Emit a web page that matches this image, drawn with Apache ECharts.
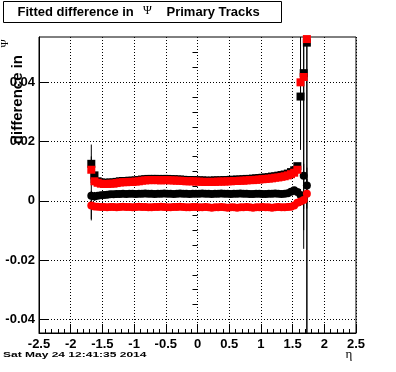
<!DOCTYPE html>
<html><head><meta charset="utf-8">
<script src="https://cdn.jsdelivr.net/npm/echarts@6/dist/echarts.min.js"></script>
<style>html,body{margin:0;padding:0;background:#fff}#c{width:396px;height:372px}</style>
</head><body><div id="c"></div>
<script>
// eta bin centres
const eta = [-1.675,-1.625,-1.575,-1.525,-1.475,-1.425,-1.375,-1.325,-1.275,-1.225,
  -1.175,-1.125,-1.075,-1.025,-0.975,-0.925,-0.875,-0.825,-0.775,-0.725,
  -0.675,-0.625,-0.575,-0.525,-0.475,-0.425,-0.375,-0.325,-0.275,-0.225,
  -0.175,-0.125,-0.075,-0.025,0.025,0.075,0.125,0.175,0.225,0.275,
  0.325,0.375,0.425,0.475,0.525,0.575,0.625,0.675,0.725,0.775,
  0.825,0.875,0.925,0.975,1.025,1.075,1.125,1.175,1.225,1.275,
  1.325,1.375,1.425,1.475,1.525,1.575,1.625,1.675,1.725];
// black squares
const blackSq = [0.0125,0.0086,0.0066,0.0062,0.0061,0.0061,0.0062,0.0062,0.0064,0.0066,
  0.0067,0.0067,0.0068,0.0068,0.0069,0.0070,0.0072,0.0073,0.0074,0.0074,
  0.0074,0.0074,0.0073,0.0074,0.0074,0.0073,0.0073,0.0072,0.0072,0.0071,
  0.0070,0.0070,0.0070,0.0069,0.0069,0.0069,0.0068,0.0068,0.0068,0.0069,
  0.0069,0.0069,0.0070,0.0070,0.0071,0.0071,0.0072,0.0072,0.0073,0.0074,
  0.0074,0.0075,0.0076,0.0077,0.0078,0.0079,0.0080,0.0082,0.0083,0.0085,
  0.0087,0.0089,0.0092,0.0097,0.0103,0.0117,0.0352,0.0431,0.0534];
const blackSqErr = [0.0065,0.002,0.0004,0.0004,0.0004,0.0004,0.0004,0.0004,0.0004,0.0004,
  0.0004,0.0004,0.0004,0.0004,0.0004,0.0004,0.0004,0.0004,0.0004,0.0004,
  0.0004,0.0004,0.0004,0.0004,0.0004,0.0004,0.0004,0.0004,0.0004,0.0004,
  0.0004,0.0004,0.0004,0.0004,0.0004,0.0004,0.0004,0.0004,0.0004,0.0004,
  0.0004,0.0004,0.0004,0.0004,0.0004,0.0004,0.0004,0.0004,0.0004,0.0004,
  0.0004,0.0004,0.0004,0.0004,0.0004,0.0004,0.0004,0.0004,0.0004,0.0004,
  0.0004,0.0004,0.0004,0.0005,0.0006,0.001,0.018,0.053,0.1];
// red squares
const redSq = [0.0105,0.0066,0.0061,0.0058,0.0057,0.0057,0.0058,0.0058,0.0060,0.0062,
  0.0063,0.0063,0.0064,0.0064,0.0065,0.0066,0.0068,0.0069,0.0070,0.0070,
  0.0070,0.0070,0.0069,0.0070,0.0070,0.0069,0.0069,0.0068,0.0068,0.0067,
  0.0066,0.0066,0.0066,0.0065,0.0065,0.0064,0.0064,0.0064,0.0064,0.0064,
  0.0065,0.0065,0.0065,0.0066,0.0066,0.0067,0.0067,0.0068,0.0068,0.0069,
  0.0070,0.0070,0.0071,0.0072,0.0073,0.0074,0.0075,0.0076,0.0078,0.0079,
  0.0081,0.0083,0.0086,0.0090,0.0095,0.0105,0.0400,0.0418,0.0546];
const redSqErr = [0.0045,0.0015,0.0004,0.0004,0.0004,0.0004,0.0004,0.0004,0.0004,0.0004,
  0.0004,0.0004,0.0004,0.0004,0.0004,0.0004,0.0004,0.0004,0.0004,0.0004,
  0.0004,0.0004,0.0004,0.0004,0.0004,0.0004,0.0004,0.0004,0.0004,0.0004,
  0.0004,0.0004,0.0004,0.0004,0.0004,0.0004,0.0004,0.0004,0.0004,0.0004,
  0.0004,0.0004,0.0004,0.0004,0.0004,0.0004,0.0004,0.0004,0.0004,0.0004,
  0.0004,0.0004,0.0004,0.0004,0.0004,0.0004,0.0004,0.0004,0.0004,0.0004,
  0.0004,0.0004,0.0004,0.0005,0.0006,0.001,0.021,0.058,0.11];
// black circles
const blackCirc = [0.0017,0.0015,0.0017,0.0019,0.0020,0.0021,0.0022,0.0022,0.0023,0.0023,
  0.0024,0.0023,0.0024,0.0024,0.0023,0.0024,0.0024,0.0025,0.0024,0.0024,
  0.0023,0.0024,0.0024,0.0025,0.0024,0.0024,0.0023,0.0024,0.0025,0.0024,
  0.0024,0.0023,0.0024,0.0024,0.0024,0.0025,0.0024,0.0024,0.0023,0.0024,
  0.0024,0.0025,0.0024,0.0024,0.0023,0.0024,0.0024,0.0025,0.0024,0.0024,
  0.0023,0.0023,0.0024,0.0024,0.0023,0.0023,0.0024,0.0024,0.0025,0.0024,
  0.0023,0.0024,0.0026,0.0031,0.0036,0.0030,0.0020,0.0085,0.0052];
const blackCircErr = [0.0078,0.0015,0.0004,0.0004,0.0004,0.0004,0.0004,0.0004,0.0004,0.0004,
  0.0004,0.0004,0.0004,0.0004,0.0004,0.0004,0.0004,0.0004,0.0004,0.0004,
  0.0004,0.0004,0.0004,0.0004,0.0004,0.0004,0.0004,0.0004,0.0004,0.0004,
  0.0004,0.0004,0.0004,0.0004,0.0004,0.0004,0.0004,0.0004,0.0004,0.0004,
  0.0004,0.0004,0.0004,0.0004,0.0004,0.0004,0.0004,0.0004,0.0004,0.0004,
  0.0004,0.0004,0.0004,0.0004,0.0004,0.0004,0.0004,0.0004,0.0004,0.0004,
  0.0004,0.0004,0.0004,0.0005,0.0006,0.0008,0.002,0.004,0.006];
// red circles
const redCirc = [-0.0016,-0.0019,-0.0020,-0.0021,-0.0021,-0.0022,-0.0021,-0.0021,-0.0022,-0.0021,
  -0.0020,-0.0021,-0.0021,-0.0022,-0.0021,-0.0020,-0.0021,-0.0021,-0.0022,-0.0022,
  -0.0021,-0.0021,-0.0020,-0.0021,-0.0022,-0.0022,-0.0021,-0.0021,-0.0020,-0.0021,
  -0.0022,-0.0022,-0.0021,-0.0021,-0.0022,-0.0022,-0.0021,-0.0022,-0.0023,-0.0022,
  -0.0022,-0.0021,-0.0022,-0.0023,-0.0022,-0.0022,-0.0023,-0.0022,-0.0022,-0.0021,
  -0.0022,-0.0023,-0.0022,-0.0022,-0.0021,-0.0022,-0.0022,-0.0023,-0.0022,-0.0021,
  -0.0022,-0.0022,-0.0021,-0.0020,-0.0016,-0.0006,-0.0002,0.0003,0.0024];
const redCircErr = [0.005,0.0012,0.0004,0.0004,0.0004,0.0004,0.0004,0.0004,0.0004,0.0004,
  0.0004,0.0004,0.0004,0.0004,0.0004,0.0004,0.0004,0.0004,0.0004,0.0004,
  0.0004,0.0004,0.0004,0.0004,0.0004,0.0004,0.0004,0.0004,0.0004,0.0004,
  0.0004,0.0004,0.0004,0.0004,0.0004,0.0004,0.0004,0.0004,0.0004,0.0004,
  0.0004,0.0004,0.0004,0.0004,0.0004,0.0004,0.0004,0.0004,0.0004,0.0004,
  0.0004,0.0004,0.0004,0.0004,0.0004,0.0004,0.0004,0.0004,0.0004,0.0004,
  0.0004,0.0004,0.0004,0.0005,0.0006,0.0008,0.0015,0.003,0.005];
// axis ticks
const xTicks = [-2.5,-2,-1.5,-1,-0.5,0,0.5,1,1.5,2,2.5];
const yTicks = [-0.04,-0.02,0,0.02,0.04];
const yMinorTicks = [-0.035,-0.03,-0.025,-0.015,-0.01,-0.005,0.005,0.01,0.015,0.025,0.03,0.035,0.045,0.05];
const xRange = [-2.5, 2.5];
const yRange = [-0.0446, 0.0553];

const chart = echarts.init(document.getElementById('c'), null, {renderer:'canvas'});
const labelFont = {fontFamily:'Liberation Sans', fontWeight:'bold', fontSize:13, color:'#000'};

function errSeries(vals, errs) {
  return {
    type:'custom', xAxisIndex:0, yAxisIndex:0, z:1, silent:true,
    data: eta.map((x,i)=>[x, vals[i], errs[i]]),
    renderItem: function(params, api){
      const x = api.value(0), y = api.value(1), e = api.value(2);
      const lo = Math.max(y - e, yRange[0]), hi = Math.min(y + e, yRange[1]);
      const p1 = api.coord([x, lo]), p2 = api.coord([x, hi]);
      return {type:'line', shape:{x1:p1[0], y1:p1[1], x2:p2[0], y2:p2[1]},
        style:{stroke:'#000', lineWidth:1}};
    }
  };
}
function pts(vals, sym, color, z) {
  return {type:'scatter', xAxisIndex:0, yAxisIndex:0, z:z, silent:true,
    symbol:sym, symbolSize: sym==='rect'?8:8,
    itemStyle:{color:color, opacity:1},
    data: eta.map((x,i)=>[x, vals[i]])};
}

chart.setOption({
  animation:false,
  backgroundColor:'#fff',
  grid:{left:39, top:37, width:317, height:296, show:true, borderColor:'#000', borderWidth:1, backgroundColor:'transparent'},
  xAxis:[{
    type:'value', min:xRange[0], max:xRange[1], interval:0.5,
    axisLine:{show:true, onZero:false, lineStyle:{color:'#000', width:1}},
    axisTick:{show:true, inside:true, length:9, lineStyle:{color:'#000', width:1}},
    minorTick:{show:true, splitNumber:5, length:4, lineStyle:{color:'#000', width:1}},
    splitLine:{show:true, lineStyle:{color:'#000', width:1, type:[1,2]}},
    axisLabel:Object.assign({margin:5, customValues:xTicks, formatter:v=>String(v)}, labelFont)
  }],
  yAxis:[{
    type:'value', min:yRange[0], max:yRange[1],
    axisLine:{show:true, onZero:false, lineStyle:{color:'#000', width:1}},
    axisTick:{show:true, inside:true, length:10, customValues:yTicks, lineStyle:{color:'#000', width:1}},
    splitLine:{show:true, lineStyle:{color:'#000', width:1, type:[1,2]}},
    axisLabel:Object.assign({margin:4, customValues:yTicks, formatter:v=>String(+(+v).toFixed(2))}, labelFont)
  },{
    type:'value', min:yRange[0], max:yRange[1],
    axisLine:{show:false},
    axisTick:{show:true, inside:true, length:5, customValues:yMinorTicks, lineStyle:{color:'#000', width:1}},
    splitLine:{show:false},
    axisLabel:{show:false}
  }],
  series:[
    errSeries(blackSq, blackSqErr),
    errSeries(redSq, redSqErr),
    errSeries(blackCirc, blackCircErr),
    errSeries(redCirc, redCircErr),
    pts(blackSq, 'rect', '#000', 2),
    pts(blackCirc, 'circle', '#000', 2),
    pts(redSq, 'rect', '#ff0000', 3),
    pts(redCirc, 'circle', '#ff0000', 3)
  ],
  graphic:[
    {type:'rect', left:3, top:1, shape:{width:278, height:21}, style:{fill:'#fff', stroke:'#000', lineWidth:1}, z:10},
    {type:'text', x:17.5, y:12.5, z:11, style:{text:'Fitted difference in', fontFamily:'Liberation Sans', fontWeight:'bold', fontSize:13, fill:'#000', textVerticalAlign:'middle'}},
    {type:'text', x:143, y:11, z:11, style:{text:'Ψ', fontFamily:'Liberation Serif', fontSize:12, fill:'#000', textVerticalAlign:'middle'}},
    {type:'text', x:166.5, y:12.5, z:11, style:{text:'Primary Tracks', fontFamily:'Liberation Sans', fontWeight:'bold', fontSize:13, fill:'#000', textVerticalAlign:'middle'}},
    {type:'text', x:17.5, y:55, rotation:Math.PI/2, z:11, style:{text:'difference in', fontFamily:'Liberation Sans', fontWeight:'bold', fontSize:15, fill:'#000', align:'right', verticalAlign:'middle'}},
    {type:'text', x:5.5, y:43.5, rotation:Math.PI/2, z:11, style:{text:'Ψ', fontFamily:'Liberation Serif', fontSize:11, fill:'#000', align:'center', verticalAlign:'middle'}},
    {type:'text', x:349, y:355, z:11, style:{text:'η', fontFamily:'Liberation Serif', fontSize:13, fill:'#000', align:'center', verticalAlign:'middle'}},
    {type:'text', x:3, y:354.5, z:11, scaleX:1.5, style:{text:'Sat May 24 12:41:35 2014', fontFamily:'Liberation Sans', fontWeight:'bold', fontSize:8, fill:'#000', verticalAlign:'middle'}}
  ]
});
</script>
</body></html>
